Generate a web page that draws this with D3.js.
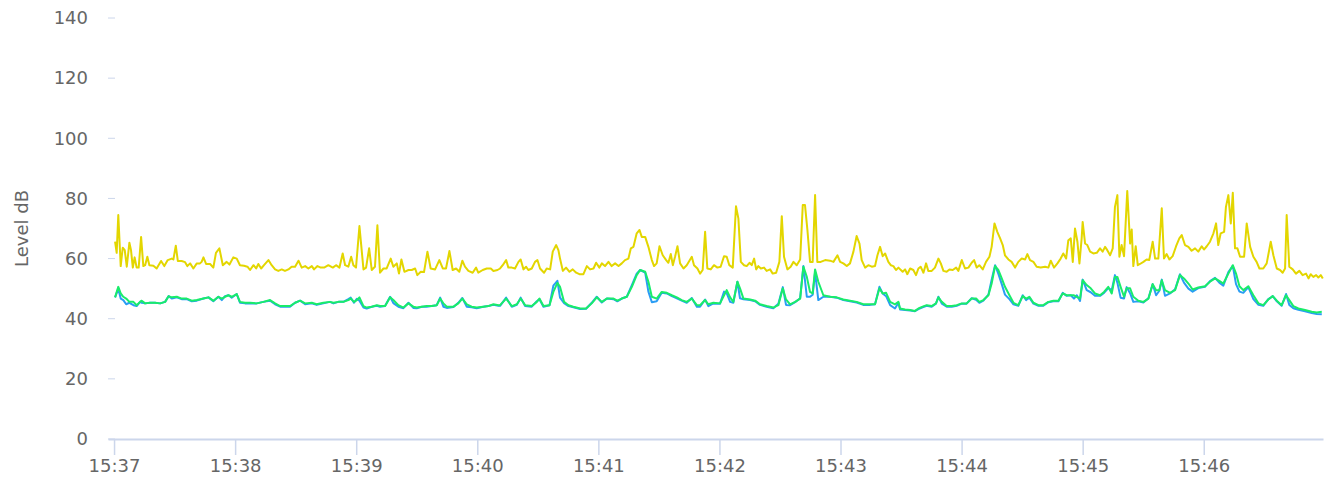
<!DOCTYPE html>
<html>
<head>
<meta charset="utf-8">
<script src="https://cdn.jsdelivr.net/npm/d3@7"></script>
<style>
  html, body { margin: 0; padding: 0; background: #fff; }
  #chart { width: 1335px; height: 484px; }
  svg text { font-family: "DejaVu Sans", sans-serif; fill: #666; }
</style>
</head>
<body>
<div id="chart"></div>
<script>
// seconds after 15:37:00 for the peak (yellow) trace
const peakTimes = [
  0.5,1.3,2.1,3.3,4.3,5.3,6.3,7.6,8.4,9.3,10.2,11.2,12.2,13.4,14.5,15.4,16.5,17.5,19.5,21.1,
  23.3,24.9,26.6,28.6,29.4,30.6,31.6,33.5,35.2,36.3,37.7,39.3,41.0,42.6,43.4,44.3,45.6,47.6,49.2,50.5,
  52.2,53.9,55.8,57.2,59.1,60.8,62.4,64.4,66.1,67.4,69.1,70.4,71.5,72.9,74.3,76.5,78.1,79.8,81.4,83.1,
  84.7,86.4,88.0,89.7,91.4,93.0,94.7,96.3,
  98.0,99.1,100.8,102.4,104.1,106.2,108.4,110.0,111.7,113.3,114.5,116.1,117.5,118.6,119.9,121.6,123.6,124.9,126.4,127.7,
  129.3,130.5,131.8,133.5,135.1,137.1,138.4,140.1,141.2,142.4,143.9,145.9,147.5,149.2,150.3,152.0,153.6,155.3,156.9,159.1,
  161.2,162.9,164.5,166.2,167.8,169.5,171.1,172.6,173.9,175.6,177.7,179.4,180.5,182.7,184.7,186.7,188.0,190.0,
  191.3,192.6,194.3,195.4,197.1,198.7,200.4,201.5,202.9,204.2,205.3,207.0,208.6,209.8,211.1,213.1,214.4,216.1,217.4,219.1,
  220.2,221.0,222.4,224.0,225.7,227.3,229.0,230.6,232.6,234.3,235.9,237.6,238.9,240.5,241.7,243.3,245.0,246.6,248.3,250.0,
  251.6,253.2,254.9,256.1,257.4,259.0,260.4,261.5,263.2,264.8,266.5,267.6,268.9,270.3,271.9,273.6,274.7,275.9,276.9,278.0,
  279.2,280.5,282.2,283.8,286.3,287.4,289.1,
  290.4,291.7,292.9,294.0,295.7,297.3,299.0,300.6,302.3,303.6,304.9,306.6,308.2,309.4,310.6,312.2,313.5,314.9,316.0,317.2,
  318.2,319.3,320.5,322.1,323.4,325.1,326.4,328.1,329.7,330.9,332.0,333.7,335.3,336.7,338.3,340.0,341.3,342.4,343.6,344.9,
  346.2,347.4,348.5,350.2,352.4,354.8,356.5,358.5,359.8,361.4,363.1,364.7,366.4,368.0,369.4,370.5,372.2,373.8,375.5,377.1,
  378.3,379.6,380.9,382.1,383.7,384.9,386.2,387.5,388.7,
  390.8,392.0,393.1,394.5,396.1,397.4,398.6,399.7,401.1,402.4,403.5,405.2,406.8,408.5,409.7,411.0,412.6,414.0,415.6,417.3,
  418.4,420.1,421.7,423.4,425.0,426.2,427.5,428.8,430.5,432.1,433.8,434.9,436.3,437.7,439.1,440.4,441.5,443.2,444.8,446.5,
  448.1,449.8,451.5,452.6,453.9,455.6,457.2,459.2,461.4,463.0,464.2,465.8,467.5,469.1,470.4,471.8,472.9,474.1,475.1,476.2,
  477.4,478.4,479.5,480.0,481.2,482.3,483.7,485.3,487.0,
  488.6,489.9,491.1,492.2,493.6,494.9,496.0,497.2,498.2,499.3,500.5,502.1,503.5,504.3,505.1,506.3,507.3,508.4,510.1,511.7,
  513.0,514.7,515.9,517.5,519.2,520.3,521.6,523.0,524.6,526.3,527.9,529.1,530.7,532.4,534.0,535.7,537.3,539.0,540.1,541.5,
  543.1,544.8,546.1,547.2,548.4,550.1,551.0,552.2,553.4,554.4,555.5,556.7,558.0,560.0,561.3,563.0,564.6,566.2,567.6,569.5,
  571.2,573.2,574.5,576.2,577.8,579.1,580.3,581.1,582.4,584.1,585.7,587.4,589.0,590.7,591.9,593.0,594.3,595.7,596.8,598.0,
  599.0
];
const peakLevel = [
  65.6,61.9,74.5,57.5,63.6,62.8,57.3,65.3,62.8,57.0,60.4,57.0,57.0,67.2,57.5,57.8,60.6,57.8,57.6,56.7,
  59.2,57.5,59.5,60.0,59.7,64.3,59.2,59.2,58.8,57.5,58.4,56.7,58.4,58.4,58.9,60.4,58.2,58.2,57.0,61.9,
  63.4,57.8,58.9,58.0,60.4,60.0,57.8,57.6,57.3,56.2,57.8,56.7,58.2,56.7,57.8,59.5,57.8,56.4,55.9,56.4,
  55.9,56.4,57.3,57.3,59.3,57.0,57.5,56.7,
  57.5,56.4,57.5,57.0,57.0,57.8,57.0,57.8,57.0,61.7,57.8,57.3,60.6,57.8,57.0,70.8,56.4,57.0,63.4,56.2,
  57.3,71.1,55.3,56.7,56.7,60.0,57.3,58.4,55.0,59.7,55.6,56.2,56.2,56.7,54.5,55.6,55.5,62.3,56.7,56.4,
  59.5,56.7,56.7,62.5,56.2,56.7,55.6,59.3,57.3,55.9,55.3,57.0,55.3,56.2,56.7,56.7,55.9,56.2,
  56.7,57.8,59.5,57.0,57.0,56.7,58.9,59.7,56.4,57.3,56.2,56.7,58.9,59.5,56.7,55.3,56.7,56.4,62.3,64.5,
  62.8,60.0,55.9,57.0,55.6,56.4,55.3,54.8,54.8,57.5,56.4,56.7,58.6,57.0,58.4,57.5,58.9,57.5,58.4,57.5,
  58.4,59.5,60.0,63.4,63.9,68.4,69.5,67.2,67.2,63.9,59.5,57.5,58.4,64.1,61.1,59.5,58.6,61.5,57.8,60.6,
  64.1,58.4,56.7,57.8,60.6,57.8,56.7,
  55.0,56.2,68.9,56.7,56.4,57.8,57.0,57.3,60.8,60.6,57.8,57.0,77.4,73.3,58.9,57.8,57.5,58.6,57.8,60.0,
  56.4,57.5,56.7,57.0,55.9,56.4,55.0,55.3,58.9,74.1,60.6,56.4,57.3,58.9,57.8,59.7,77.8,77.8,69.5,58.9,
  58.9,81.1,58.9,58.9,59.5,59.3,58.9,61.1,58.9,58.4,57.5,58.4,62.3,67.5,65.0,59.5,57.0,57.8,57.3,57.5,
  61.1,63.9,60.8,61.7,58.9,57.8,57.5,56.2,57.0,
  55.6,56.4,54.8,56.7,56.2,54.5,56.7,57.3,55.3,58.4,55.9,55.9,57.0,60.0,58.4,55.9,55.6,56.4,56.2,57.0,
  55.9,59.5,56.7,57.0,58.6,59.5,57.0,57.8,56.4,58.9,60.6,63.9,71.7,68.9,66.7,64.5,61.1,59.7,58.9,57.0,
  58.9,60.0,59.7,61.5,59.5,58.9,57.3,57.0,57.3,57.0,59.3,57.0,58.4,60.0,61.7,60.0,66.1,66.7,58.9,70.0,
  65.6,58.4,66.7,72.2,65.0,64.5,62.3,61.7,61.9,
  63.4,62.3,63.9,62.8,61.1,63.4,77.2,81.1,60.6,64.5,60.8,82.5,65.0,69.7,57.5,64.1,57.8,58.2,58.9,59.7,
  59.5,65.6,60.0,60.0,76.7,60.0,61.5,59.7,60.8,64.1,66.7,67.8,64.5,63.9,62.6,63.4,62.3,64.1,63.0,64.1,
  65.6,68.4,71.7,64.5,68.4,68.9,77.2,81.1,71.7,81.9,63.4,63.4,60.6,60.6,71.7,63.9,60.6,58.9,56.7,56.7,
  58.4,65.6,61.1,56.7,56.2,55.3,56.7,74.5,57.3,56.4,55.0,55.9,54.5,55.0,53.4,54.8,53.9,54.5,53.7,54.5,
  53.4
];

// seconds after 15:37:00 for the two averaged traces
const avgTimes = [
  0.5,2.1,3.3,4.6,6.0,7.6,9.6,11.2,12.9,13.7,15.4,17.8,20.3,22.8,25.3,27.0,28.6,31.1,33.5,36.0,
  38.5,41.0,44.3,46.8,49.2,51.7,53.4,55.0,56.7,58.3,60.8,62.4,64.9,67.4,70.7,74.0,77.3,79.8,82.3,84.8,
  87.2,89.7,92.2,94.7,
  98.0,100.4,103.7,107.0,108.7,111.2,113.6,116.1,117.3,118.9,120.3,121.6,123.6,125.2,127.7,130.2,131.8,134.3,136.8,138.4,
  140.9,143.4,145.9,148.3,150.0,152.5,154.9,157.4,159.9,161.6,163.2,164.9,168.2,170.6,172.6,174.8,177.2,179.7,183.0,185.5,
  188.0,190.5,
  191.3,194.3,197.1,199.6,201.5,203.7,207.0,209.5,210.8,212.8,215.8,217.7,219.7,221.0,223.0,225.2,227.6,231.0,233.9,236.7,
  239.2,241.7,244.2,247.5,249.4,251.6,254.1,256.6,259.0,260.7,263.2,264.8,266.5,268.9,271.4,273.9,276.4,278.9,281.3,283.8,
  286.3,288.8,
  290.4,292.9,294.5,297.0,300.3,302.3,303.6,305.3,306.9,308.9,310.2,311.9,315.2,317.7,320.1,323.4,326.7,329.2,331.4,333.0,
  335.0,337.5,340.0,341.6,343.3,344.9,346.2,347.4,349.0,351.5,354.8,358.1,361.4,364.7,368.0,371.3,374.7,377.1,379.3,380.9,
  382.6,384.6,387.0,388.7,
  389.5,392.0,394.5,396.9,398.6,400.7,402.7,405.2,407.3,408.5,410.2,412.6,415.1,417.6,420.1,422.5,425.0,427.2,428.8,430.8,
  433.3,434.9,436.6,438.2,439.9,441.5,443.7,445.7,448.1,450.3,452.0,453.6,455.6,458.1,460.5,463.0,465.5,468.0,470.1,472.1,
  474.1,475.7,477.1,478.7,480.0,482.0,484.0,486.1,
  488.6,490.6,492.7,494.4,496.0,497.2,498.8,500.5,501.8,503.5,505.1,507.6,510.1,512.6,514.7,516.4,518.0,519.2,520.8,523.3,
  525.8,528.2,530.2,532.4,534.5,537.3,540.6,543.1,545.6,547.7,549.7,552.2,554.4,556.0,557.7,559.6,562.1,564.6,567.1,569.5,
  572.0,574.2,576.2,578.6,580.8,582.4,584.4,586.9,590.2,593.5,596.0,598.5
];
const fastLevel = [
  47.1,50.0,46.7,46.2,44.8,45.3,44.5,44.2,45.6,45.3,45.1,45.3,45.3,45.1,45.6,47.5,46.7,47.1,46.5,46.5,
  45.8,46.0,46.7,47.1,45.8,47.3,46.2,47.5,47.8,47.0,48.2,45.3,45.1,45.1,45.1,45.6,46.0,44.8,44.0,44.0,
  44.0,45.3,46.0,44.8,
  45.1,44.6,45.1,45.6,45.1,45.6,45.6,46.5,47.0,45.3,46.6,46.0,43.7,43.4,44.0,44.3,44.0,44.2,47.3,45.2,
  44.0,43.5,45.3,43.6,43.5,44.0,44.0,44.2,44.5,47.0,44.0,43.6,43.9,45.3,46.9,44.0,43.8,43.5,44.0,44.2,
  44.6,44.3,
  44.3,47.0,44.0,44.6,47.0,44.2,44.0,45.8,46.5,44.0,44.5,51.0,52.6,47.0,45.2,44.2,43.8,43.2,43.3,45.3,
  47.3,45.4,46.7,46.5,45.8,46.7,47.3,51.2,55.0,56.2,55.3,49.0,45.5,45.8,48.6,48.4,47.5,46.8,46.0,45.3,
  46.9,44.0,
  44.0,46.4,44.2,45.1,45.0,49.0,48.5,45.6,45.3,52.3,46.8,46.5,46.2,45.8,44.6,44.0,43.5,45.0,50.5,44.6,
  44.5,45.5,46.8,57.5,47.3,47.3,48.0,55.5,46.2,47.3,47.3,47.0,46.2,45.8,45.4,44.6,44.6,44.8,50.6,48.4,
  47.5,44.5,43.4,45.3,
  43.1,42.9,42.7,42.5,43.2,43.8,44.3,44.0,45.0,47.3,45.0,44.0,44.0,44.3,45.0,45.0,46.8,46.3,45.3,46.0,
  48.0,53.0,57.8,55.0,51.5,48.0,46.5,44.8,44.3,47.8,46.2,47.0,45.0,44.3,44.3,45.5,45.8,45.8,48.6,47.6,
  47.8,46.7,47.8,45.9,53.0,49.5,48.8,47.6,
  47.6,48.6,50.2,49.5,54.5,52.0,47.0,46.7,50.5,48.5,45.6,45.8,45.4,46.8,51.5,47.8,49.3,53.0,47.6,48.4,
  49.8,54.8,52.0,50.0,49.0,50.2,50.6,52.5,53.6,52.0,51.0,55.5,57.6,51.5,49.0,48.6,50.5,46.5,44.6,44.3,
  46.5,47.5,45.8,44.3,48.2,44.6,43.5,43.0,42.5,41.9,41.6,41.5
];
const slowLevel = [
  47.1,50.6,48.4,47.3,46.7,45.6,45.6,44.5,45.6,46.0,45.1,45.3,45.3,45.1,45.6,47.5,47.1,47.3,46.7,46.7,
  46.0,46.2,46.7,47.1,46.0,47.3,46.7,47.3,47.8,47.3,48.2,45.6,45.3,45.3,45.1,45.6,46.2,45.1,44.2,44.2,
  44.2,45.3,46.0,45.1,
  45.3,44.8,45.3,45.6,45.3,45.6,45.6,46.2,46.7,45.6,46.2,47.1,44.2,43.7,44.0,44.5,44.2,44.2,47.1,46.2,
  44.5,43.7,45.1,44.0,43.7,44.0,44.2,44.2,44.5,46.7,45.1,44.0,44.0,45.1,46.7,44.8,44.0,43.7,44.0,44.2,
  44.8,44.5,
  44.5,46.7,44.2,44.8,46.7,44.5,44.2,45.6,46.7,44.2,44.5,48.9,51.9,50.6,45.6,44.5,44.0,43.4,43.4,45.1,
  47.1,45.6,46.7,46.7,46.0,46.7,47.3,50.6,54.5,56.2,55.6,52.3,47.3,46.7,48.9,48.6,47.8,47.1,46.2,45.6,
  46.7,44.5,
  44.5,46.2,44.8,45.3,45.1,47.8,49.5,47.1,45.6,52.3,50.1,46.7,46.4,46.0,44.8,44.2,43.7,44.5,50.1,46.4,
  44.8,45.6,46.7,57.3,53.9,48.9,48.4,56.4,52.3,47.8,47.3,47.1,46.4,46.0,45.6,44.8,44.8,44.8,50.1,48.4,
  48.6,45.6,44.8,45.6,
  43.4,43.1,42.9,42.6,43.4,44.0,44.5,44.2,45.1,47.1,45.6,44.2,44.2,44.5,45.1,45.1,46.7,46.7,45.6,46.2,
  47.8,51.7,57.5,56.2,53.4,50.6,47.8,45.3,44.5,47.5,46.7,47.3,45.3,44.5,44.5,45.6,46.0,46.0,48.4,47.8,
  47.8,47.8,47.3,46.7,52.8,51.2,50.1,48.4,
  47.8,48.9,50.6,48.4,53.9,53.9,50.6,47.3,50.1,50.1,47.3,46.0,45.6,46.7,51.5,49.5,49.5,52.8,49.5,48.6,
  49.5,54.5,53.4,51.7,49.7,50.4,50.8,52.3,53.4,52.6,51.7,55.0,57.8,55.0,50.8,49.5,50.8,47.8,45.1,44.5,
  46.4,47.5,46.0,44.5,47.8,46.2,44.2,43.4,42.9,42.3,42.1,42.3
];

const yTicks = [0, 20, 40, 60, 80, 100, 120, 140];
const yTitle = 'Level dB';

d3.selection.prototype.levelChart = function init() {
  function createChart(el) {
    const $sel = d3.select(el);
    const start = new Date(2020, 0, 1, 15, 37, 0);
    const at = s => new Date(start.getTime() + s * 1000);

    const plotLeft = 108;
    const plotRight = 1323;
    const plotTop = 18;
    const plotBottom = 439;

    const series = [
      { name: 'peak', color: '#e3d600', pts: d3.zip(peakTimes, peakLevel) },
      { name: 'fast', color: '#2a9df4', pts: d3.zip(avgTimes, fastLevel) },
      { name: 'slow', color: '#19ec6a', pts: d3.zip(avgTimes, slowLevel) }
    ];

    const scaleX = d3.scaleTime()
      .domain([at(-3), at(599.1)])
      .range([plotLeft, plotRight]);
    const scaleY = d3.scaleLinear()
      .domain([0, 140])
      .range([plotBottom, plotTop]);

    const $svg = $sel.append('svg')
      .attr('width', 1335)
      .attr('height', 484);

    // y axis: short tick marks and labels only
    const $yAxis = $svg.append('g').attr('class', 'g-y');
    $yAxis.selectAll('line')
      .data(yTicks)
      .enter().append('line')
      .attr('x1', plotLeft).attr('x2', plotLeft + 7)
      .attr('y1', d => scaleY(d)).attr('y2', d => scaleY(d))
      .attr('stroke', '#ccd6eb').attr('stroke-width', 1);
    $yAxis.selectAll('text')
      .data(yTicks)
      .enter().append('text')
      .attr('x', 88)
      .attr('y', d => scaleY(d))
      .attr('dy', '0.35em')
      .attr('text-anchor', 'end')
      .style('font-size', '18px')
      .text(d => d);

    $svg.append('text')
      .attr('transform', `translate(28, ${(plotTop + plotBottom) / 2}) rotate(-90)`)
      .attr('text-anchor', 'middle')
      .style('font-size', '18px')
      .text(yTitle);

    // x axis
    const xAxis = d3.axisBottom(scaleX)
      .ticks(d3.timeMinute.every(1))
      .tickFormat(d3.timeFormat('%H:%M'))
      .tickSize(16)
      .tickSizeOuter(0);
    const $xAxis = $svg.append('g')
      .attr('transform', `translate(0, ${plotBottom})`)
      .call(xAxis);
    $xAxis.select('.domain').attr('stroke', '#ccd6eb').attr('stroke-width', 2);
    $xAxis.selectAll('.tick line').attr('stroke', '#ccd6eb').attr('stroke-width', 1.5);
    $xAxis.selectAll('.tick text')
      .attr('y', 20)
      .attr('dy', '0.71em')
      .style('font-size', '18px')
      .style('font-family', '"DejaVu Sans", sans-serif')
      .attr('fill', '#666');

    const line = d3.line()
      .x(d => scaleX(at(d[0])))
      .y(d => scaleY(d[1]));

    $svg.append('g').attr('class', 'g-vis')
      .selectAll('path')
      .data(series)
      .enter().append('path')
      .attr('fill', 'none')
      .attr('stroke', d => d.color)
      .attr('stroke-width', 2)
      .attr('stroke-linejoin', 'round')
      .attr('d', d => line(d.pts));
  }

  this.nodes().forEach(createChart);
  return this;
};

d3.select('#chart').levelChart();
</script>
</body>
</html>
